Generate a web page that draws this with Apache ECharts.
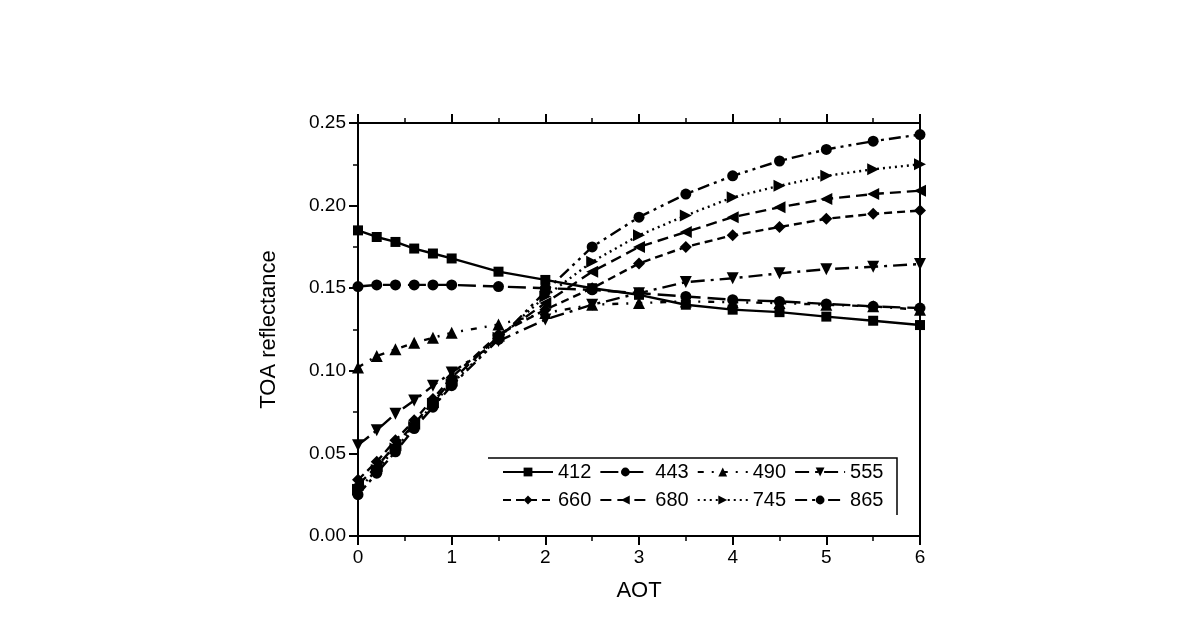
<!DOCTYPE html>
<html>
<head>
<meta charset="utf-8">
<script src="https://cdn.jsdelivr.net/npm/echarts@6/dist/echarts.min.js"></script>
<style>html,body{margin:0;padding:0;background:#fff}#c{width:1190px;height:641px}</style>
</head>
<body>
<div id="c"></div>
<script>
const aot = [0, 0.2, 0.4, 0.6, 0.8, 1.0, 1.5, 2.0, 2.5, 3.0, 3.5, 4.0, 4.5, 5.0, 5.5, 6.0];
const names = ['412', '443', '490', '555', '660', '680', '745', '865'];
const r412 = [0.185, 0.181, 0.178, 0.174, 0.171, 0.168, 0.160, 0.155, 0.150, 0.146, 0.140, 0.137, 0.1355, 0.1328, 0.1303, 0.1277];
const r443 = [0.151, 0.152, 0.152, 0.152, 0.152, 0.152, 0.151, 0.150, 0.149, 0.147, 0.145, 0.143, 0.142, 0.1405, 0.139, 0.138];
const r490 = [0.102, 0.109, 0.113, 0.117, 0.120, 0.123, 0.128, 0.135, 0.140, 0.141, 0.142, 0.1415, 0.141, 0.140, 0.139, 0.137];
const r555 = [0.055, 0.064, 0.074, 0.082, 0.091, 0.099, 0.118, 0.131, 0.140, 0.147, 0.1537, 0.156, 0.159, 0.1615, 0.163, 0.1646];
const r660 = [0.034, 0.045, 0.058, 0.070, 0.083, 0.096, 0.122, 0.137, 0.150, 0.165, 0.175, 0.182, 0.187, 0.192, 0.195, 0.197];
const r680 = [0.031, 0.042, 0.055, 0.068, 0.081, 0.094, 0.121, 0.141, 0.160, 0.175, 0.184, 0.193, 0.199, 0.204, 0.207, 0.209];
const r745 = [0.028, 0.040, 0.053, 0.066, 0.080, 0.092, 0.120, 0.145, 0.166, 0.182, 0.194, 0.205, 0.212, 0.218, 0.222, 0.225];
const r865 = [0.025, 0.038, 0.051, 0.065, 0.078, 0.091, 0.119, 0.148, 0.175, 0.193, 0.207, 0.218, 0.227, 0.234, 0.239, 0.243];
const xTicks = [0, 1, 2, 3, 4, 5, 6];
const yTicks = [0, 0.05, 0.10, 0.15, 0.20, 0.25];

const values = [r412, r443, r490, r555, r660, r680, r745, r865];
const symbols = ['rect', 'circle', 'triangle', 'path://M0,0 L10,0 L5,10 Z', 'diamond',
  'path://M10,0 L10,10 L0,5 Z', 'path://M0,0 L0,10 L10,5 Z', 'circle'];
const sizes = [10, 11, 12, 12, 12, 12, 12, 11];
const dashes = ['solid', [18, 7], [6, 8, 2, 8], [14, 6, 3, 6], [8, 5], [11, 6], [2, 4], [12, 5, 3, 5, 3, 5]];
const FONT = 'Liberation Sans, Arial, sans-serif';

const series = names.map((n, i) => ({
  name: n,
  type: 'line',
  data: aot.map((x, j) => [x, values[i][j]]),
  symbol: symbols[i],
  symbolSize: sizes[i],
  itemStyle: { color: '#000' },
  lineStyle: { color: '#000', width: 2.4, type: dashes[i] },
  xAxisIndex: 0, yAxisIndex: 0,
  z: 3
}));

const legendCommon = {
  orient: 'horizontal',
  itemWidth: 50, itemHeight: 11, itemGap: 8,
  textStyle: { fontFamily: FONT, fontSize: 20, color: '#000' },
  padding: 0
};

const chart = echarts.init(document.getElementById('c'), null, { renderer: 'canvas' });
chart.setOption({
  animation: false,
  backgroundColor: '#fff',
  grid: { left: 358, right: 270, top: 123, bottom: 105, containLabel: false },
  xAxis: [{
    type: 'value', min: xTicks[0], max: xTicks[xTicks.length - 1], interval: 1,
    name: 'AOT', nameLocation: 'middle', nameGap: 44,
    nameTextStyle: { fontFamily: FONT, fontSize: 22, color: '#000' },
    axisLine: { show: true, onZero: false, lineStyle: { color: '#000', width: 2 } },
    axisTick: { show: true, length: 9, lineStyle: { color: '#000', width: 2 } },
    minorTick: { show: true, splitNumber: 2, length: 5, lineStyle: { color: '#000', width: 1.5 } },
    axisLabel: { fontFamily: FONT, fontSize: 19, color: '#000', margin: 12 },
    splitLine: { show: false }
  }, {
    type: 'value', position: 'top', min: 0, max: 6, interval: 1,
    axisLine: { show: true, onZero: false, lineStyle: { color: '#000', width: 2 } },
    axisTick: { show: true, length: 9, lineStyle: { color: '#000', width: 2 } },
    minorTick: { show: true, splitNumber: 2, length: 5, lineStyle: { color: '#000', width: 1.5 } },
    axisLabel: { show: false }, splitLine: { show: false }
  }],
  yAxis: [{
    type: 'value', min: yTicks[0], max: yTicks[yTicks.length - 1], interval: 0.05,
    name: 'TOA reflectance', nameLocation: 'middle', nameGap: 78,
    nameTextStyle: { fontFamily: FONT, fontSize: 22, color: '#000' },
    axisLine: { show: true, onZero: false, lineStyle: { color: '#000', width: 2 } },
    axisTick: { show: true, length: 9, lineStyle: { color: '#000', width: 2 } },
    minorTick: { show: true, splitNumber: 2, length: 5, lineStyle: { color: '#000', width: 1.5 } },
    axisLabel: { fontFamily: FONT, fontSize: 19, color: '#000', margin: 12,
      formatter: v => v.toFixed(2) },
    splitLine: { show: false }
  }, {
    type: 'value', position: 'right', min: 0, max: 0.25, interval: 0.05,
    axisLine: { show: true, onZero: false, lineStyle: { color: '#000', width: 2 } },
    axisTick: { show: false }, axisLabel: { show: false }, splitLine: { show: false }
  }],
  legend: [
    Object.assign({}, legendCommon, { data: names.slice(0, 4), left: 502, top: 462 }),
    Object.assign({}, legendCommon, { data: names.slice(4), left: 502, top: 490 })
  ],
  graphic: [{
    type: 'polyline', silent: true,
    shape: { points: [[488, 458], [897, 458], [897, 515]] },
    style: { stroke: '#000', lineWidth: 1.5, fill: null }
  }],
  series: series
});
</script>
</body>
</html>
